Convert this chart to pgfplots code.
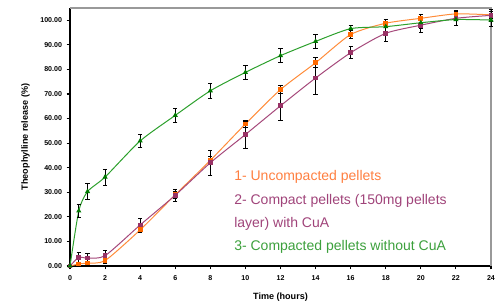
\documentclass[border=0pt]{standalone}
\usepackage{pgfplots}
\pgfplotsset{compat=1.18}
\usepackage{fontspec}
\setmainfont{Liberation Sans}
\definecolor{orl}{HTML}{FF8C3A}
\definecolor{orm}{HTML}{FF6A00}
\definecolor{pul}{HTML}{A5487A}
\definecolor{pum}{HTML}{993366}
\definecolor{grl}{HTML}{2CA02C}
\definecolor{grm}{HTML}{007A00}
\definecolor{ort}{HTML}{FF7F40}
\definecolor{put}{HTML}{A0447A}
\definecolor{grt}{HTML}{3CA03C}
\begin{document}
\begin{tikzpicture}
\begin{axis}[
  scale only axis, width=315.75pt, height=193.5pt,
  xmin=0, xmax=24, ymin=0, ymax=105,
  xtick={0,2,...,24}, ytick={0,10,...,100},
  axis x line*=bottom, axis y line*=left,
  axis line style={black, line width=1pt, -},
  tick align=outside, major tick length=2.5pt,
  tick style={black, line width=0.8pt},
  /pgf/number format/assume math mode=true,
  yticklabel style={/pgf/number format/.cd, fixed, fixed zerofill, precision=2},
  xticklabel style={yshift=-1.5pt},
  ticklabel style={font=\fontsize{5.3}{6}\selectfont\bfseries},
  xlabel={Time (hours)}, ylabel={Theophylline release (\%)},
  label style={font=\fontsize{6.8}{8}\selectfont\bfseries},
  xlabel style={yshift=-2pt},
  ylabel style={yshift=1pt},
  clip=false,
  error bars/y dir=both, error bars/y explicit,
  error bars/error bar style={black, line width=0.6pt},
  error bars/error mark options={rotate=90, black, mark size=1.6pt, line width=0.6pt},
]
\draw[gray!80, line width=0.8pt] (rel axis cs:0,1) -- (rel axis cs:1,1) -- (rel axis cs:1,0);
% 1 uncompacted
\addplot[orl, line width=0.75pt, smooth, tension=0.4, mark=square*, mark size=1.4pt, mark options={orm, fill=orm}]
coordinates {(0,0) +- (0,0.3) (0.5,0.8) +- (0,0.8) (1,1.2) +- (0,0.8) (2,2.2) +- (0,1) (4,14.7) +- (0,1.2) (6,29) +- (0,1.5) (8,43) +- (0,1.5) (10,57.8) +- (0,1.5) (12,71.8) +- (0,1.5) (14,82.7) +- (0,2) (16,94.2) +- (0,1.5) (18,98.8) +- (0,1.5) (20,100.8) +- (0,1.5) (22,102.6) +- (0,1.5) (24,102.2) +- (0,1.5)};
% 2 compact with CuA
\addplot[pul, line width=0.75pt, smooth, tension=0.4, mark=square*, mark size=1.4pt, mark options={pum, fill=pum}]
coordinates {(0,0) +- (0,0.5) (0.5,3.5) +- (0,2) (1,3.2) +- (0,1.8) (2,4.2) +- (0,2) (4,16.7) +- (0,2.8) (6,28.8) +- (0,2.5) (8,42) +- (0,5) (10,53.5) +- (0,5.5) (12,65.2) +- (0,6) (14,76.5) +- (0,6.5) (16,86.8) +- (0,2.5) (18,94.7) +- (0,3.5) (20,98) +- (0,3) (22,100.8) +- (0,3) (24,102) +- (0,2.5)};
% 3 compacted without CuA
\addplot[grl, line width=0.75pt, smooth, tension=0.4, mark=triangle*, mark size=1.5pt, mark options={grm, fill=grm}]
coordinates {(0,0) +- (0,0.3) (0.5,22.4) +- (0,2.5) (1,30.3) +- (0,3.3) (2,36.2) +- (0,3.3) (4,50.9) +- (0,2.5) (6,61.3) +- (0,3) (8,71.3) +- (0,3) (10,78.8) +- (0,3) (12,85.6) +- (0,2.8) (14,91.4) +- (0,3) (16,96.6) +- (0,1.5) (18,97.4) +- (0,2) (20,99) +- (0,2.5) (22,100.3) +- (0,2.5) (24,100.1) +- (0,2.5)};
\node[anchor=west, font=\fontsize{10.5}{12}\selectfont, text=ort, inner sep=0pt] at (axis cs:9.35,36.4) {1- Uncompacted pellets};
\node[anchor=west, font=\fontsize{10.5}{12}\selectfont, text=put, inner sep=0pt] at (axis cs:9.35,26.5) {2- Compact pellets (150mg pellets};
\node[anchor=west, font=\fontsize{10.5}{12}\selectfont, text=put, inner sep=0pt] at (axis cs:9.35,17.1) {layer) with CuA};
\node[anchor=west, font=\fontsize{10.5}{12}\selectfont, text=grt, inner sep=0pt] at (axis cs:9.35,7.9) {3- Compacted pellets without CuA};
\coordinate (bl) at (rel axis cs:-0.1663,-0.1318);
\coordinate (tr) at (rel axis cs:1.0309,1.031);
\end{axis}
\path (bl) rectangle (tr);
\end{tikzpicture}
\end{document}
